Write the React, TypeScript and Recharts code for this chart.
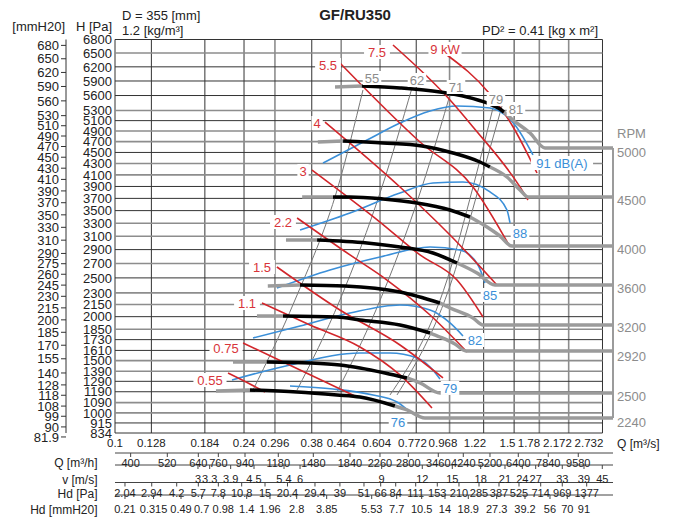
import React from 'react';
import { ComposedChart, Line, XAxis, YAxis, ReferenceLine, Scatter } from 'recharts';

const FONT = '"Liberation Sans", Arial, Helvetica, sans-serif';
const QMAX = 2.934;
const HMIN = 834;
const HMAX = 6800;
const MM = 9.80665;

// ---- axis ticks ----
const qTicks = [0.1, 0.128, 0.184, 0.24, 0.296, 0.38, 0.464, 0.604, 0.772, 0.968, 1.22, 1.5, 1.78, 2.172, 2.732];
const qLabels = ['0.1', '0.128', '0.184', '0.24', '0.296', '0.38', '0.464', '0.604', '0.772', '0.968', '1.22', '1.5', '1.78', '2.172', '2.732'];
const qLabelPos = [0.1, 0.128, 0.184, 0.24, 0.296, 0.38, 0.464, 0.5904, 0.7527, 0.9257, 1.1502, 1.434, 1.6591, 2.0131, 2.493];
const paTicks = [834, 915, 1000, 1090, 1190, 1290, 1390, 1500, 1610, 1730, 1850, 2000, 2150, 2300, 2500, 2700, 2900, 3100, 3300, 3500, 3700, 3900, 4100, 4300, 4500, 4700, 4900, 5100, 5300, 5600, 5900, 6200, 6500, 6800];
const mmTicks = [81.9, 90, 99, 108, 118, 128, 140, 155, 170, 185, 200, 215, 230, 245, 260, 275, 290, 310, 330, 350, 370, 390, 410, 430, 450, 470, 490, 510, 530, 560, 590, 620, 650, 680];
const rpmLabels = ['RPM', '5000', '4500', '4000', '3600', '3200', '2920', '2500', '2240'];
const rpmLabelH = [4862, 4508, 3673, 2909, 2364, 1876, 1550, 1150, 923];

const m3hLabels = ['400', '520', '640', '760', '940', '1180', '1480', '1840', '2260', '2800', '3460', '4240', '5200', '6400', '7840', '9580'];
const m3hPos = [0.1112, 0.1426, 0.176, 0.2016, 0.2416, 0.3028, 0.384, 0.4925, 0.6037, 0.7316, 0.8967, 1.0624, 1.2734, 1.543, 1.891, 2.318];
const vLabels = ['3', '3.3', '3.9', '4.5', '5.4', '6', '9', '12', '15', '18', '21', '24', '27', '33', '39', '45'];
const vPos = [0.1756, 0.1901, 0.2192, 0.2568, 0.3148, 0.351, 0.6107, 0.8044, 0.986, 1.1955, 1.4099, 1.5856, 1.7365, 2.0797, 2.4098, 2.7283];
const hdPaLabels = ['2.04', '2.94', '4.2', '5.7', '7.8', '10.8', '15', '20.4', '29.4', '39', '51', '66', '84', '111', '153', '210', '285', '387', '525', '714', '969', '1377'];
const hdPaPos = [0.107, 0.1283, 0.152, 0.176, 0.2016, 0.2362, 0.2767, 0.3223, 0.3884, 0.46, 0.5416, 0.6066, 0.6717, 0.7692, 0.8906, 1.0318, 1.182, 1.3536, 1.5504, 1.7963, 2.0797, 2.4543];
const hdMmLabels = ['0.21', '0.315', '0.49', '0.7', '0.98', '1.4', '1.96', '2.8', '3.85', '5.53', '7.7', '10.5', '14', '18.9', '27.3', '39.2', '56', '70', '91'];
const hdMmPos = [0.107, 0.1299, 0.1565, 0.18, 0.2085, 0.2444, 0.2862, 0.3431, 0.4205, 0.5707, 0.6762, 0.8011, 0.9384, 1.0991, 1.3326, 1.6149, 1.9133, 2.1514, 2.4098];

// ---- fan curves (Q m3/s, H Pa) ----
const fan5000Stub = [{ q: 0.445, h: 5775 }, { q: 0.534, h: 5796 }];
const fan5000 = [{ q: 0.534, h: 5796 }, { q: 0.692, h: 5754 }, { q: 0.907, h: 5672 }, { q: 1.09, h: 5570 }, { q: 1.248, h: 5449 }, { q: 1.363, h: 5329 }, { q: 1.4, h: 5269 }];
const fan5000Tail = [{ q: 1.4, h: 5269 }, { q: 1.488, h: 5112 }, { q: 1.671, h: 4862 }, { q: 1.849, h: 4582 }, { q: 2.934, h: 4582 }];
const fan4500Stub = [{ q: 0.396, h: 4693 }, { q: 0.47, h: 4712 }];
const fan4500 = [{ q: 0.47, h: 4712 }, { q: 0.616, h: 4674 }, { q: 0.803, h: 4619 }, { q: 0.991, h: 4490 }, { q: 1.19, h: 4327 }, { q: 1.273, h: 4238 }];
const fan4500Tail = [{ q: 1.273, h: 4238 }, { q: 1.429, h: 4063 }, { q: 1.561, h: 3840 }, { q: 1.648, h: 3723 }, { q: 2.934, h: 3723 }];
const fan4000Stub = [{ q: 0.356, h: 3723 }, { q: 0.439, h: 3723 }];
const fan4000 = [{ q: 0.439, h: 3723 }, { q: 0.4925, h: 3723 }, { q: 0.616, h: 3690 }, { q: 0.776, h: 3624 }, { q: 0.971, h: 3510 }, { q: 1.112, h: 3398 }];
const fan4000Tail = [{ q: 1.112, h: 3398 }, { q: 1.248, h: 3241 }, { q: 1.363, h: 3103 }, { q: 1.478, h: 2953 }, { q: 2.934, h: 2953 }];
const fan3600Stub = [{ q: 0.319, h: 3043 }, { q: 0.394, h: 3043 }];
const fan3600 = [{ q: 0.394, h: 3043 }, { q: 0.553, h: 2998 }, { q: 0.6915, h: 2939 }, { q: 0.865, h: 2851 }, { q: 1.018, h: 2707 }];
const fan3600Tail = [{ q: 1.018, h: 2707 }, { q: 1.166, h: 2567 }, { q: 1.317, h: 2404 }, { q: 2.934, h: 2404 }];
const fan3200Stub = [{ q: 0.282, h: 2391 }, { q: 0.351, h: 2404 }];
const fan3200 = [{ q: 0.351, h: 2404 }, { q: 0.476, h: 2391 }, { q: 0.6915, h: 2312 }, { q: 0.907, h: 2170 }];
const fan3200Tail = [{ q: 0.907, h: 2170 }, { q: 0.971, h: 2107 }, { q: 1.135, h: 1984 }, { q: 1.2145, h: 1900 }, { q: 2.934, h: 1900 }];
const fan2920Stub = [{ q: 0.262, h: 2008 }, { q: 0.3126, h: 2008 }];
const fan2920 = [{ q: 0.3126, h: 2008 }, { q: 0.451, h: 1996 }, { q: 0.527, h: 1960 }, { q: 0.6915, h: 1900 }, { q: 0.848, h: 1806 }];
const fan2920Tail = [{ q: 0.848, h: 1806 }, { q: 0.907, h: 1760 }, { q: 1.004, h: 1681 }, { q: 1.082, h: 1604 }, { q: 2.934, h: 1604 }];
const fan2500Stub = [{ q: 0.2227, h: 1486 }, { q: 0.28, h: 1486 }];
const fan2500 = [{ q: 0.28, h: 1486 }, { q: 0.3755, h: 1476 }, { q: 0.46, h: 1455 }, { q: 0.527, h: 1424 }, { q: 0.6246, h: 1373 }, { q: 0.725, h: 1323 }];
const fan2500Tail = [{ q: 0.725, h: 1323 }, { q: 0.792, h: 1274 }, { q: 0.907, h: 1178 }, { q: 2.934, h: 1178 }];
const fan2240Stub = [{ q: 0.1984, h: 1197 }, { q: 0.2499, h: 1207 }];
const fan2240 = [{ q: 0.2499, h: 1207 }, { q: 0.344, h: 1188 }, { q: 0.451, h: 1160 }, { q: 0.527, h: 1141 }, { q: 0.668, h: 1060 }];
const fan2240Tail = [{ q: 0.668, h: 1060 }, { q: 0.725, h: 1025 }, { q: 0.819, h: 956 }, { q: 2.934, h: 956 }];

// ---- system resistance lines ----
const sys55 = [{ q: 0.2551, h: 1207 }, { q: 0.3391, h: 2208 }, { q: 0.454, h: 3891 }, { q: 0.5379, h: 5713 }];
const sys62 = [{ q: 0.344, h: 1207 }, { q: 0.46, h: 2208 }, { q: 0.612, h: 3891 }, { q: 0.75, h: 5754 }];
const sys71 = [{ q: 0.451, h: 1188 }, { q: 0.5875, h: 2082 }, { q: 0.8027, h: 3891 }, { q: 0.984, h: 5754 }];
const sys79 = [{ q: 0.6461, h: 1160 }, { q: 0.9512, h: 2471 }, { q: 1.135, h: 3891 }, { q: 1.3084, h: 5429 }];
const sys81 = [{ q: 0.6776, h: 1160 }, { q: 0.984, h: 2471 }, { q: 1.182, h: 3891 }, { q: 1.3815, h: 5389 }];

// ---- power lines (kW) ----
const p055 = [{ q: 0.2153, h: 1373 }, { q: 0.2466, h: 1274 }, { q: 0.2767, h: 1188 }];
const p075 = [{ q: 0.2383, h: 1692 }, { q: 0.351, h: 1403 }, { q: 0.5165, h: 1141 }];
const p11 = [{ q: 0.2711, h: 2170 }, { q: 0.3755, h: 1900 }, { q: 0.527, h: 1648 }, { q: 0.6915, h: 1353 }, { q: 0.8591, h: 1042 }];
const p15 = [{ q: 0.3, h: 2651 }, { q: 0.46, h: 2082 }, { q: 0.6915, h: 1670 }, { q: 0.9257, h: 1323 }];
const p22 = [{ q: 0.344, h: 3382 }, { q: 0.4925, h: 2822 }, { q: 0.6331, h: 2471 }, { q: 0.848, h: 2020 }, { q: 1.0895, h: 1593 }];
const p3 = [{ q: 0.3806, h: 4185 }, { q: 0.6037, h: 3319 }, { q: 0.792, h: 2822 }, { q: 1.018, h: 2471 }, { q: 1.2145, h: 1996 }];
const p4 = [{ q: 0.4157, h: 5073 }, { q: 0.6915, h: 3891 }, { q: 0.971, h: 3118 }, { q: 1.3353, h: 2404 }];
const p55 = [{ q: 0.46, h: 6283 }, { q: 0.792, h: 4693 }, { q: 1.135, h: 3891 }, { q: 1.4585, h: 2939 }];
const p75 = [{ q: 0.6594, h: 6677 }, { q: 0.971, h: 5509 }, { q: 1.135, h: 4977 }, { q: 1.561, h: 3891 }, { q: 1.648, h: 3673 }];
const p9 = [{ q: 0.9512, h: 6456 }, { q: 1.2648, h: 5652 }, { q: 1.478, h: 5016 }, { q: 1.7518, h: 4132 }];

// ---- noise lines dB(A) ----
const n91 = [{ q: 0.4101, h: 4309 }, { q: 0.553, h: 4730 }, { q: 0.6915, h: 5054 }, { q: 0.848, h: 5289 }, { q: 1.018, h: 5389 }, { q: 1.2734, h: 5349 }, { q: 1.5087, h: 5016 }, { q: 1.7048, h: 4454 }];
const n88 = [{ q: 0.351, h: 3195 }, { q: 0.4925, h: 3462 }, { q: 0.6915, h: 3790 }, { q: 0.865, h: 3959 }, { q: 1.0602, h: 3976 }, { q: 1.2734, h: 3807 }, { q: 1.429, h: 3510 }, { q: 1.4585, h: 3304 }];
const n85 = [{ q: 0.3, h: 2364 }, { q: 0.43, h: 2609 }, { q: 0.6037, h: 2793 }, { q: 0.848, h: 2939 }, { q: 1.0388, h: 2894 }, { q: 1.1738, h: 2679 }, { q: 1.231, h: 2431 }];
const n82 = [{ q: 0.2551, h: 1749 }, { q: 0.351, h: 1888 }, { q: 0.4925, h: 2045 }, { q: 0.6915, h: 2145 }, { q: 0.848, h: 2082 }, { q: 0.971, h: 1924 }, { q: 1.0602, h: 1772 }];
const n79 = [{ q: 0.2212, h: 1303 }, { q: 0.3278, h: 1455 }, { q: 0.527, h: 1582 }, { q: 0.6461, h: 1582 }, { q: 0.776, h: 1528 }, { q: 0.848, h: 1434 }, { q: 0.907, h: 1313 }];
const n76 = [{ q: 0.3278, h: 1245 }, { q: 0.439, h: 1216 }, { q: 0.5758, h: 1160 }, { q: 0.6776, h: 1096 }, { q: 0.74, h: 1007 }];

// ---- labels ----
const kwLabels = [
  { q: 0.1905, h: 1303, label: '0.55' },
  { q: 0.2124, h: 1637, label: '0.75' },
  { q: 0.2449, h: 2170, label: '1.1' },
  { q: 0.2711, h: 2651, label: '1.5' },
  { q: 0.3126, h: 3319, label: '2.2' },
  { q: 0.3581, h: 4168, label: '3' },
  { q: 0.394, h: 5054, label: '4' },
  { q: 0.4243, h: 6239, label: '5.5' },
  { q: 0.5915, h: 6522, label: '7.5' },
  { q: 0.9385, h: 6588, label: '9 kW' },
];
const dbLabels = [
  { q: 0.6822, h: 923, label: '76' },
  { q: 0.971, h: 1226, label: '79' },
  { q: 1.1502, h: 1726, label: '82' },
  { q: 1.2734, h: 2273, label: '85' },
  { q: 1.561, h: 3149, label: '88' },
  { q: 2.075, h: 4309, label: '91 dB(A)' },
];
const sysLabels = [
  { q: 0.5718, h: 5963, label: '55' },
  { q: 0.776, h: 5921, label: '62' },
  { q: 1.011, h: 5775, label: '71' },
  { q: 1.3263, h: 5529, label: '79' },
  { q: 1.519, h: 5329, label: '81' },
];

const stubs = [fan5000Stub, fan4500Stub, fan4000Stub, fan3600Stub, fan3200Stub, fan2920Stub, fan2500Stub, fan2240Stub];
const mains = [fan5000, fan4500, fan4000, fan3600, fan3200, fan2920, fan2500, fan2240];
const tails = [fan5000Tail, fan4500Tail, fan4000Tail, fan3600Tail, fan3200Tail, fan2920Tail, fan2500Tail, fan2240Tail];
const sysLines = [sys55, sys62, sys71, sys79, sys81];
const powerLines = [p055, p075, p11, p15, p22, p3, p4, p55, p75, p9];
const noiseLines = [n91, n88, n85, n82, n79, n76];

// grid line styling (lighter, heavier lines vs. thin dark lines)
const grayQ = new Set([0.296, 0.464, 0.604, 0.968, 1.78, 2.172]);
const grayH = new Set([6500, 5300, 4900, 4700, 4300, 4100, 3300, 3100, 2700, 2300, 2150, 1850, 1500, 1390, 1090, 1000]);

const RED = '#d2262b';
const BLUE = '#3b8fd8';
const GRAY = '#9b9b9b';
const DARK = '#222';

const makeLabelShape = (color: string) => (props: any) => {
  const { cx, cy, payload } = props;
  const txt: string = payload.label;
  const fs = 13;
  const w = txt.length * fs * 0.56 + 4;
  return (
    <g>
      <rect x={cx - w / 2} y={cy - 7} width={w} height={14} fill="#fff" />
      <text x={cx} y={cy} dy="0.36em" textAnchor="middle" fontSize={fs} fill={color} fontFamily={FONT}>{txt}</text>
    </g>
  );
};

const QTick = (p: any) => (
  <text x={p.x} y={p.y + 10} dy="0.36em" textAnchor="middle" fontSize={11.5} fill={DARK} fontFamily={FONT}>{qLabels[p.index]}</text>
);
const PaTick = (p: any) => (
  <text x={p.x} y={p.y} dy="0.36em" textAnchor="end" fontSize={13} fill={DARK} fontFamily={FONT}>{p.payload.value}</text>
);
const MmTick = (p: any) => (
  <text x={p.x} y={p.y} dy="0.36em" textAnchor="end" fontSize={13} fill={DARK} fontFamily={FONT}>{p.payload.value}</text>
);
const RpmTick = (p: any) => (
  <text x={p.x} y={p.y} dy="0.36em" textAnchor="start" fontSize={13} fill="#8c8c8c" fontFamily={FONT}>{rpmLabels[p.index]}</text>
);
const rowTick = (labels: string[], off: number) => (p: any) => (
  <g>
    <line x1={p.x} x2={p.x} y1={p.y} y2={p.y + 4} stroke="#444" strokeWidth={1} />
    <text x={p.x} y={p.y + off} dy="0.36em" textAnchor="middle" fontSize={11} fill={DARK} fontFamily={FONT}>{labels[p.index]}</text>
  </g>
);

const xCommon = { dataKey: 'q', type: 'number' as const, scale: 'log' as const, domain: [0.1, QMAX], interval: 0 as const, tickSize: 0, tickMargin: 0, allowDataOverflow: true };

export default function App() {
  return (
    <div style={{ position: 'absolute', left: 0, top: 0, width: 681, height: 520, background: '#fff' }}>
      <ComposedChart width={681} height={520} margin={{ top: 39.5, right: 0, bottom: 0, left: 0 }}>
        <XAxis xAxisId="xa" {...xCommon} ticks={qLabelPos} height={20} axisLine={false} tickLine={false} tick={QTick} />
        <XAxis xAxisId="xb" {...xCommon} ticks={m3hPos} height={12} axisLine={{ stroke: '#444' }} tickLine={false} tick={rowTick(m3hLabels, 9.7)} />
        <XAxis xAxisId="xc" {...xCommon} ticks={vPos} height={17.5} axisLine={{ stroke: '#444' }} tickLine={false} tick={rowTick(vLabels, 14.3)} />
        <XAxis xAxisId="xd" {...xCommon} ticks={hdPaPos} height={12.5} axisLine={{ stroke: '#444' }} tickLine={false} tick={rowTick(hdPaLabels, 10.8)} />
        <XAxis xAxisId="xe" {...xCommon} ticks={hdMmPos} height={25} axisLine={{ stroke: '#444' }} tickLine={false} tick={rowTick(hdMmLabels, 14.3)} />
        <YAxis yAxisId="ya" dataKey="h" type="number" scale="sqrt" domain={[HMIN, HMAX]} ticks={paTicks} interval={0} width={49} tickSize={0} tickMargin={3} axisLine={false} tickLine={false} tick={PaTick} allowDataOverflow />
        <YAxis yAxisId="yb" dataKey="h" type="number" scale="sqrt" domain={[HMIN / MM, HMAX / MM]} ticks={mmTicks} interval={0} width={66} tickSize={5} tickMargin={2} axisLine={{ stroke: '#333' }} tickLine={{ stroke: '#333' }} tick={MmTick} allowDataOverflow />
        <YAxis yAxisId="yc" dataKey="h" orientation="right" type="number" scale="sqrt" domain={[HMIN, HMAX]} ticks={rpmLabelH} interval={0} width={68} tickSize={0} tickMargin={4} axisLine={false} tickLine={false} tick={RpmTick} allowDataOverflow />

        {qTicks.map((v) => (
          <ReferenceLine key={'gx' + v} xAxisId="xa" yAxisId="ya" x={v} stroke={grayQ.has(v) ? '#8d8d8d' : '#333'} strokeWidth={grayQ.has(v) ? 1.6 : 1} />
        ))}
        {paTicks.map((v) => (
          <ReferenceLine key={'gy' + v} xAxisId="xa" yAxisId="ya" segment={[{ x: 0.1, y: v }, { x: 2.732, y: v }]} stroke={grayH.has(v) ? '#8d8d8d' : '#333'} strokeWidth={grayH.has(v) ? 1.6 : 1} />
        ))}
        <ReferenceLine xAxisId="xa" yAxisId="ya" segment={[{ x: QMAX, y: 4582 }, { x: QMAX, y: 956 }]} stroke={GRAY} strokeWidth={2} />

        {['xb', 'xc', 'xd', 'xe'].map((id) => (
          <Line key={'hid' + id} data={fan2240Tail} dataKey="h" xAxisId={id} yAxisId="ya" stroke="none" dot={false} isAnimationActive={false} />
        ))}

        {sysLines.map((d, i) => (
          <Line key={'s' + i} data={d} dataKey="h" xAxisId="xa" yAxisId="ya" type="monotone" stroke="#777" strokeWidth={1} dot={false} isAnimationActive={false} />
        ))}
        {noiseLines.map((d, i) => (
          <Line key={'n' + i} data={d} dataKey="h" xAxisId="xa" yAxisId="ya" type="monotone" stroke={BLUE} strokeWidth={1.6} dot={false} isAnimationActive={false} />
        ))}
        {powerLines.map((d, i) => (
          <Line key={'p' + i} data={d} dataKey="h" xAxisId="xa" yAxisId="ya" type="monotone" stroke={RED} strokeWidth={1.6} dot={false} isAnimationActive={false} />
        ))}
        {stubs.map((d, i) => (
          <Line key={'fs' + i} data={d} dataKey="h" xAxisId="xa" yAxisId="ya" type="monotone" stroke={GRAY} strokeWidth={3.5} dot={false} isAnimationActive={false} />
        ))}
        {tails.map((d, i) => (
          <Line key={'ft' + i} data={d} dataKey="h" xAxisId="xa" yAxisId="ya" type="monotone" stroke={GRAY} strokeWidth={3.5} dot={false} isAnimationActive={false} />
        ))}
        {mains.map((d, i) => (
          <Line key={'fm' + i} data={d} dataKey="h" xAxisId="xa" yAxisId="ya" type="monotone" stroke="#000" strokeWidth={3.5} dot={false} isAnimationActive={false} />
        ))}

        <Scatter data={sysLabels} xAxisId="xa" yAxisId="ya" dataKey="h" shape={makeLabelShape('#8c8c8c')} isAnimationActive={false} />
        <Scatter data={kwLabels} xAxisId="xa" yAxisId="ya" dataKey="h" shape={makeLabelShape('#d8343a')} isAnimationActive={false} />
        <Scatter data={dbLabels} xAxisId="xa" yAxisId="ya" dataKey="h" shape={makeLabelShape('#3b8fd8')} isAnimationActive={false} />
      </ComposedChart>
      <svg width={681} height={520} style={{ position: 'absolute', left: 0, top: 0, pointerEvents: 'none' }} fontFamily={FONT}>
        <text x={122} y={15} dy="0.36em" fontSize={13} fill={DARK}>D = 355 [mm]</text>
        <text x={122} y={30} dy="0.36em" fontSize={13} fill={DARK}>1.2 [kg/m³]</text>
        <text x={355} y={15} dy="0.36em" fontSize={15} fontWeight="bold" textAnchor="middle" fill={DARK}>GF/RU350</text>
        <text x={598} y={30} dy="0.36em" fontSize={13} textAnchor="end" fill={DARK}>PD² = 0.41 [kg x m²]</text>
        <text x={65} y={26} dy="0.36em" fontSize={13} textAnchor="end" fill={DARK}>[mmH20]</text>
        <text x={112} y={26} dy="0.36em" fontSize={13} textAnchor="end" fill={DARK}>H [Pa]</text>
        <text x={617} y={443.5} dy="0.36em" fontSize={12} fill={DARK}>Q [m³/s]</text>
        <text x={97.5} y={462.7} dy="0.36em" fontSize={12} textAnchor="end" fill={DARK}>Q [m³/h]</text>
        <text x={97.5} y={479.3} dy="0.36em" fontSize={12} textAnchor="end" fill={DARK}>v [m/s]</text>
        <text x={97.5} y={493.5} dy="0.36em" fontSize={12} textAnchor="end" fill={DARK}>Hd [Pa]</text>
        <text x={97.5} y={509.5} dy="0.36em" fontSize={12} textAnchor="end" fill={DARK}>Hd [mmH20]</text>
      </svg>
    </div>
  );
}
